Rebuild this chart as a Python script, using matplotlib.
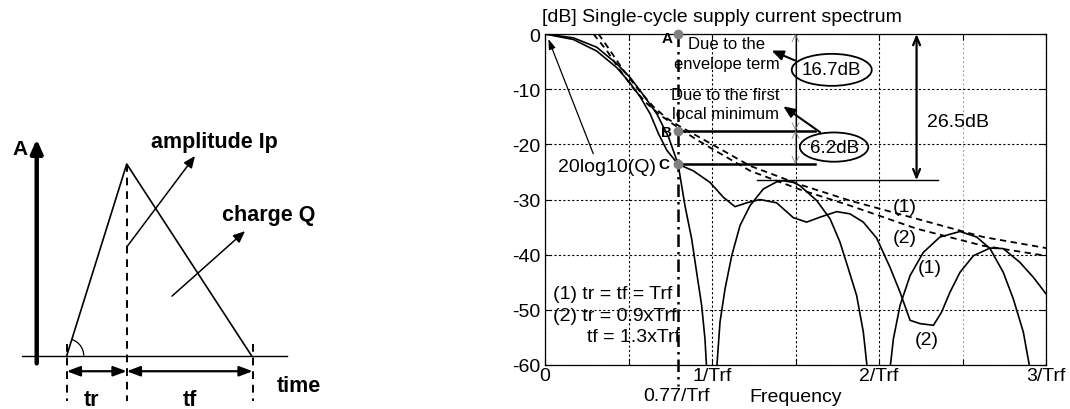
import numpy as np
import matplotlib
matplotlib.use('Agg')
import matplotlib.pyplot as plt
from matplotlib.patches import Ellipse, Arc

plt.rcParams['font.family'] = ['Liberation Sans', 'DejaVu Sans']
plt.rcParams['axes.unicode_minus'] = False

# ---- spectrum data (f in 1/Trf, level in dB) ----
nan = np.nan
# (1) tr = tf = Trf
f1 = [0, 0.17, 0.31, 0.43, 0.51, 0.59, 0.67, 0.74, 0.797, 0.838, 0.878, 0.908, 0.938, 0.958, 0.968, nan,
      1.028, 1.048, 1.078, 1.118, 1.168, 1.228, 1.307, 1.387, 1.427, 1.487, 1.527, 1.627, 1.707, 1.766,
      1.817, 1.866, 1.906, 1.93, nan,
      2.066, 2.086, 2.126, 2.186, 2.265, 2.365, 2.485, 2.585, 2.665, 2.744, 2.804, 2.864, 2.904]
db1 = [0, -0.7, -2.4, -5.4, -7.9, -11.1, -14.5, -18.7, -23.6, -31.1, -37.1, -43.2, -49.2, -55.3, -60.7, nan,
       -60.7, -52.2, -46.2, -40.2, -34.7, -31.1, -28.1, -26.8, -26.6, -26.9, -27.5, -30.2, -33.5, -37.7,
       -42.6, -47.4, -54.0, -60.7, nan,
       -60.7, -55.3, -49.2, -43.8, -39.6, -36.8, -35.8, -36.8, -38.9, -43.2, -48.0, -54.0, -60.7]
# (2) tr = 0.9xTrf, tf = 1.3xTrf
f2 = [0, 0.17, 0.31, 0.43, 0.51, 0.57, 0.63, 0.68, 0.73, 0.797, 0.888, 0.988, 1.068, 1.138, 1.208, 1.287,
      1.387, 1.487, 1.567, 1.647, 1.747, 1.826, 1.906, 1.986, 2.066, 2.126, 2.186, 2.246, 2.326, 2.375,
      2.425, 2.485, 2.565, 2.665, 2.744, 2.844, 2.924, 3.0]
db2 = [0, -1.0, -3.1, -6.1, -8.9, -11.4, -14.5, -18.1, -21.1, -23.6, -24.8, -26.9, -29.6, -31.3, -30.6, -30.0,
       -30.6, -33.3, -34.1, -33.2, -32.2, -32.6, -34.1, -37.0, -42.3, -46.8, -51.9, -52.5, -52.8, -50.4,
       -46.8, -43.2, -40.2, -38.8, -38.9, -41.4, -44.1, -47.1]
# envelopes (dashed)
fe1 = [0.32, 0.39, 0.47, 0.57, 0.65, 0.73, 0.81, 0.9, 1.0, 1.228, 1.527, 1.826, 2.226, 2.625, 3.0]
de1 = [0, -3.0, -6.6, -10.5, -13.2, -15.3, -16.8, -18.3, -20.0, -23.9, -27.3, -30.2, -33.5, -36.8, -38.8]
fe2 = [0.29, 0.37, 0.45, 0.53, 0.61, 0.69, 0.77, 0.9, 1.0, 1.228, 1.527, 1.826, 2.226, 2.625, 3.0]
de2 = [0, -3.0, -6.6, -9.9, -12.6, -14.7, -16.4, -19.0, -20.8, -24.8, -28.2, -31.1, -35.3, -38.4, -40.2]

# points A, B, C at 0.77/Trf
f_mark = 0.797
db_abc = [0, -17.5, -23.6]
abc_names = ['A', 'B', 'C']
db_sidelobe = -26.5

xticks = [0, 0.5, 1, 1.5, 2, 2.5, 3]
xticklabels = ['0', '', '1/Trf', '', '2/Trf', '', '3/Trf']
yticks = [0, -10, -20, -30, -40, -50, -60]

# ---- pulse diagram (t in units of tr, amplitude in units of Ip) ----
pulse_t = [0, 1.0, 3.08]
pulse_a = [0, 1.0, 0]
t_end = 3.1

fig = plt.figure(figsize=[10.7, 4.1], dpi=100)

# left: triangle pulse
axl = fig.add_axes([0, 0, 360/1070, 1])
axl.set_xlim(-1.112, 4.888)
axl.set_ylim(-0.278, 1.861)
axl.axis('off')
axl.plot([-0.745, 3.672], [0, 0], color='k', lw=1.0)
axl.plot(pulse_t, pulse_a, color='k', lw=1.2)
axl.annotate('', xy=(-0.5, 1.13), xytext=(-0.5, -0.04),
             arrowprops=dict(arrowstyle='-|>,head_width=0.35,head_length=0.8', lw=3.2, color='k',
                             shrinkA=0, shrinkB=0))
axl.text(-0.78, 1.083, 'A', fontsize=15, fontweight='bold', ha='center', va='center')
for tx, a0 in [(0, 0.06), (1.0, 1.0), (t_end, 0.06)]:
    axl.plot([tx, tx], [a0, -0.236], color='k', lw=1.4, ls=(0, (4, 3)))
for ta, tb in [(0, 1.0), (1.0, t_end)]:
    axl.annotate('', xy=(tb, -0.081), xytext=(ta, -0.081),
                 arrowprops=dict(arrowstyle='<|-|>,head_width=0.3,head_length=0.8', lw=1.6, color='k',
                                 shrinkA=0, shrinkB=0))
axl.text(0.413, -0.226, 'tr', fontsize=15.5, fontweight='bold', ha='center', va='center')
axl.text(2.055, -0.226, 'tf', fontsize=15.5, fontweight='bold', ha='center', va='center')
axl.text(3.872, -0.153, 'time', fontsize=15.5, fontweight='bold', ha='center', va='center')
axl.annotate('', xy=(2.138, 1.042), xytext=(1.0, 0.567),
             arrowprops=dict(arrowstyle='-|>,head_width=0.3,head_length=0.7', lw=1.1, color='k',
                             shrinkA=0, shrinkB=0))
axl.text(2.455, 1.12, 'amplitude Ip', fontsize=15.5, fontweight='bold', ha='center', va='center')
axl.annotate('', xy=(2.972, 0.65), xytext=(1.755, 0.311),
             arrowprops=dict(arrowstyle='-|>,head_width=0.3,head_length=0.7', lw=1.1, color='k',
                             shrinkA=0, shrinkB=0))
axl.text(3.367, 0.739, 'charge Q', fontsize=15.5, fontweight='bold', ha='center', va='center')
axl.add_patch(Arc((0, 0), 0.567, 0.177, theta1=0, theta2=45, color='k', lw=0.9))

# right: spectrum
ax = fig.add_axes([545/1070, 44/410, 501/1070, 331/410])
ax.plot(fe1, de1, color='k', lw=1.3, ls=(0, (3.5, 2.5)))
ax.plot(fe2, de2, color='k', lw=1.3, ls=(0, (3.5, 2.5)))
ax.plot(f1, db1, color='k', lw=1.2)
ax.plot(f2, db2, color='k', lw=1.2)
ax.set_xlim(0, 3)
ax.set_ylim(-60, 0)
ax.set_xticks(xticks)
ax.set_xticklabels(xticklabels)
ax.set_yticks(yticks)
ax.tick_params(direction='in', top=True, right=True, length=4, width=0.8, labelsize=14)
ax.tick_params(axis='x', pad=1.5)
ax.tick_params(axis='y', pad=3.5)
ax.grid(True, color='k', lw=0.8, ls=(0, (2, 2)))
ax.get_xgridlines()[5].set_color('0.65')
for s in ax.spines.values():
    s.set_linewidth(0.9)

# 0.77/Trf marker line
ax.plot([f_mark, f_mark], [0, -63.8], color='k', lw=1.8, ls=(0, (5, 2, 1, 2)), clip_on=False, zorder=3)
ax.plot([f_mark] * 3, db_abc, 'o', color='0.5', ms=6, clip_on=False, zorder=5)
ax.text(0.765, -0.8, abc_names[0], fontsize=11, fontweight='bold', ha='right', va='center')
ax.text(0.762, -17.7, abc_names[1], fontsize=11, fontweight='bold', ha='right', va='center')
ax.text(0.745, -23.6, abc_names[2], fontsize=11, fontweight='bold', ha='right', va='center')

# level lines from B and C, side-lobe line
ax.plot([f_mark, 1.617], [db_abc[1], db_abc[1]], color='k', lw=1.8)
ax.plot([f_mark, 1.617], [db_abc[2], db_abc[2]], color='k', lw=1.8)
ax.plot([1.27, 2.355], [db_sidelobe, db_sidelobe], color='k', lw=1.0)
ax.plot([1.5, 1.5], [0, db_abc[2]], color='k', lw=0.8)
ax.annotate('', xy=(1.5, 0), xytext=(1.5, db_abc[1]),
            arrowprops=dict(arrowstyle='<->,head_length=0.5,head_width=0.25', color='0.5', lw=0.6,
                            shrinkA=0, shrinkB=0))
ax.annotate('', xy=(1.5, db_abc[1]), xytext=(1.5, db_abc[2]),
            arrowprops=dict(arrowstyle='<->,head_length=0.5,head_width=0.25', color='0.5', lw=0.6,
                            shrinkA=0, shrinkB=0))
ax.annotate('', xy=(2.225, 0), xytext=(2.225, db_sidelobe),
            arrowprops=dict(arrowstyle='<->,head_length=0.6,head_width=0.25', color='k', lw=1.6,
                            shrinkA=0, shrinkB=0))
ax.text(2.285, -15.8, '26.5dB', fontsize=14, ha='left', va='center')

ax.add_patch(Ellipse((1.717, -6.5), 0.479, 5.8, fill=False, ec='k', lw=1.3, zorder=4))
ax.text(1.717, -6.5, '16.7dB', fontsize=13.5, ha='center', va='center')
ax.add_patch(Ellipse((1.731, -20.5), 0.41, 5.3, fill=False, ec='k', lw=1.3, zorder=4))
ax.text(1.731, -20.5, '6.2dB', fontsize=13.5, ha='center', va='center')
ax.annotate('', xy=(1.357, -3.0), xytext=(1.497, -4.8),
            arrowprops=dict(arrowstyle='-|>,head_width=0.3,head_length=0.7', lw=1.5, color='k',
                            shrinkA=0, shrinkB=0))
ax.annotate('', xy=(1.427, -13.1), xytext=(1.647, -17.8),
            arrowprops=dict(arrowstyle='-|>,head_width=0.3,head_length=0.7', lw=1.5, color='k',
                            shrinkA=0, shrinkB=0))
ax.text(1.088, -1.8, 'Due to the', fontsize=12, ha='center', va='center')
ax.text(1.088, -5.4, 'envelope term', fontsize=12, ha='center', va='center')
ax.text(1.078, -10.9, 'Due to the first', fontsize=12, ha='center', va='center')
ax.text(1.078, -14.5, 'local minimum', fontsize=12, ha='center', va='center')

ax.annotate('', xy=(0.02, -0.9), xytext=(0.289, -21.7),
            arrowprops=dict(arrowstyle='-|>,head_width=0.2,head_length=0.6', lw=0.9, color='k',
                            shrinkA=0, shrinkB=0))
ax.text(0.08, -24.0, '20log10(Q)', fontsize=14, ha='left', va='center')

ax.text(0.05, -47.1, '(1) tr = tf = Trf', fontsize=14, ha='left', va='center')
ax.text(0.05, -51.1, '(2) tr = 0.9xTrf', fontsize=14, ha='left', va='center')
ax.text(0.25, -54.9, 'tf = 1.3xTrf', fontsize=14, ha='left', va='center')

ax.text(2.156, -31.3, '(1)', fontsize=14, ha='center', va='center')
ax.text(2.156, -36.8, '(2)', fontsize=14, ha='center', va='center')
ax.text(2.305, -42.3, '(1)', fontsize=14, ha='center', va='center')
ax.text(2.285, -55.3, '(2)', fontsize=14, ha='center', va='center')

ax.text(0.79, -65.6, '0.77/Trf', fontsize=14, ha='center', va='center', clip_on=False)
ax.text(1.503, -65.8, 'Frequency', fontsize=14, ha='center', va='center', clip_on=False)
fig.text(542/1070, 1 - 17/410, '[dB] Single-cycle supply current spectrum', fontsize=14,
         ha='left', va='center')

fig.savefig('out.png', dpi=100)
